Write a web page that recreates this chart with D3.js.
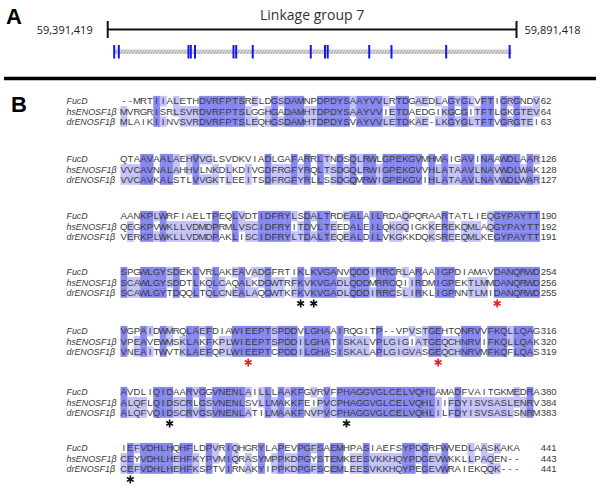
<!DOCTYPE html>
<html><head><meta charset="utf-8">
<script src="https://cdn.jsdelivr.net/npm/d3@7"></script>
<style>body{margin:0;background:#fff}svg{display:block}</style>
</head><body>
<svg id="chart" width="600" height="493"></svg>
<script>
// ---------- Panel A data ----------
const regionStart = 59391419;
const regionEnd = 59891418;
const regionLabels = ["59,391,419", "59,891,418"];
const chromosomeLabel = "Linkage group 7";
const geneSpan = [59398500, 59885300];
const exonPositions = [59399400, 59405000, 59490200, 59493100, 59498200, 59545300, 59548600,
  59568800, 59639800, 59657200, 59660500, 59711300, 59738500, 59805400, 59883000];

// ---------- Panel B data ----------
const seqNames = ["FucD", "hsENOSF1β", "drENOSF1β"];
const fucdBlocks = [
  "--MRTIIALETHDVRFPTSRELDGSDAMNPDPDYSAAYVVLRTDGAEDLAGYGLVFTIGRGNDV",
  "QTAAVAALAEHVVGLSVDKVIADLGAFARRLTNDSQLRWLGPEKGVMHMAIGAVINAAWDLAAR",
  "AANKPLWRFIAELTPEQLVDTIDFRYLSDALTRDEALAILRDAQPQRAARTATLIEQGYPAYTT",
  "SPGWLGYSDEKLVRLAKEAVADGFRTIKLKVGANVQDDIRRCRLARAAIGPDIAMAVDANQRWD",
  "VGPAIDWMRQLAEFDIAWIEEPTSPDDVLGHAAIRQGITP--VPVSTGEHTQNRVVFKQLLQAG",
  "AVDLIQIDAARVGGVNENLAILLLAAKFGVRVFPHAGGVGLCELVQHLAMADFVAITGKMEDRA",
  "IEFVDHLHQHFLDPVRIQHGRYLAPEVPGFSAEMHPASIAEFSYPDGRFWVEDLAASKAKA"
];
const hsBlocks = [
  "MVRGRISRLSVRDVRFPTSLGGHGADAMHTDPDYSAAYVVIETDAEDGIKGCGITFTLGKGTEV",
  "VVCAVNALAHHVLNKDLKDIVGDFRGFYRQLTSDGQLRWIGPEKGVVHLATAAVLNAVWDLWAK",
  "QEGKPVWKLLVDMDPRMLVSCIDFRYITDVLTEEDALEILQKGQIGKKEREKQMLAQGYPAYTT",
  "SCAWLGYSDDTLKQLCAQALKDGWTRFKVKVGADLQDDMRRCQIIRDMIGPEKTLMMDANQRWD",
  "VPEAVEWMSKLAKFKPLWIEEPTSPDDILGHATISKALVPLGIGIATGEQCHNRVIFKQLLQAK",
  "ALQFLQIDSCRLGSVNENLSVLLMAKKFEIPVCPHAGGVGLCELVQHLIIFDYISVSASLENRV",
  "CEYVDHLHEHFKYPVMIQRASYMPPKDPGYSTEMKEESVKKHQYPDGEVWKKLLPAQEN--"
];
const drBlocks = [
  "MLAIKIINVSVRDVRFPTSLEQHGSDAMHTDPDYSVAYVVLETDKAE-LKGYGLTFTVGRGTEI",
  "VVCAVKALSTLVVGKTLEEITSDFRGFYRLLSSDGQMRWIGPEKGVIHLATAAVLNAVWDLWAR",
  "VERKPLWKLLVDMDPAKLISCIDFRYLTDALTEQEALDILVKGKKDQKSREEQMLKEGYPAYTT",
  "SCAWLGYTDQQLTQLCNEALAQGWTKFKVKVGADLQDDIRRCSLIRKLIGPNNTLMIDANQRWD",
  "VNEAITWVTKLAEFQPLWIEEPTCPDDILGHASISKALAPLGIGVASGEQCHNRVMFKQFLQAS",
  "ALQFVQIDSCRVGSVNENLATILMAAKFNVPVCPHAGGVGLCELVQHLILFDYISVSASLSNRM",
  "CEFVDHLHEHFKSPTVIRNAKYIPPKDPGFSCEMLEESVKKHQYPEGEVWRAIEKQQK---"
];
const fucdEnds = [62, 126, 190, 254, 316, 380, 441];
const hsEnds = [64, 128, 192, 256, 320, 384, 443];
const drEnds = [63, 127, 191, 255, 319, 383, 441];
// marked residues: block index, column (1-based), kind
const markBlocks = [3, 3, 3, 4, 4, 5, 5, 6];
const markColumns = [28, 30, 58, 20, 49, 8, 35, 2];
const markKinds = ["other", "other", "catalytic", "catalytic", "catalytic", "other", "other", "other"];

// ---------- layout ----------
const svg = d3.select("#chart");
const darkC = "#8686ef", lightC = "#c2c2f7", textC = "#3c3c3c";
const sans = "Liberation Sans, Arial, sans-serif";

// Panel A
const gx = d3.scaleLinear().domain([regionStart, regionEnd]).range([107.7, 516.5]);
svg.append("text").attr("x", 6).attr("y", 24).text("A")
  .attr("font-family", sans).attr("font-weight", "bold").attr("font-size", 22);
svg.append("text").attr("x", (gx(regionStart) + gx(regionEnd)) / 2).attr("y", 20).attr("text-anchor", "middle")
  .attr("font-family", "Open Sans, sans-serif").attr("font-size", 14).attr("fill", "#333").text(chromosomeLabel);
svg.append("line").attr("x1", gx(regionStart)).attr("x2", gx(regionEnd)).attr("y1", 29.5).attr("y2", 29.5)
  .attr("stroke", "#111").attr("stroke-width", 1.8);
[regionStart, regionEnd].forEach(p => {
  svg.append("line").attr("x1", gx(p)).attr("x2", gx(p)).attr("y1", 21).attr("y2", 38)
    .attr("stroke", "#111").attr("stroke-width", 2);
});
svg.append("text").attr("x", gx(regionStart) - 15).attr("y", 33.5).attr("text-anchor", "end")
  .attr("font-family", "Open Sans, sans-serif").attr("font-size", 11).attr("fill", "#222").text(regionLabels[0]);
svg.append("text").attr("x", gx(regionEnd) + 8).attr("y", 33.5).attr("text-anchor", "start")
  .attr("font-family", "Open Sans, sans-serif").attr("font-size", 11).attr("fill", "#222").text(regionLabels[1]);

const defs = svg.append("defs");
const pat = defs.append("pattern").attr("id", "rope").attr("patternUnits", "userSpaceOnUse")
  .attr("width", 3).attr("height", 5);
pat.append("rect").attr("width", 3).attr("height", 5).attr("fill", "#d8d8d8");
pat.append("path").attr("d", "M0,5 L3,0").attr("stroke", "#a2a2a2").attr("stroke-width", 0.9);
svg.append("rect").attr("x", gx(geneSpan[0])).attr("width", gx(geneSpan[1]) - gx(geneSpan[0]))
  .attr("y", 49.5).attr("height", 4.5).attr("fill", "url(#rope)");
svg.selectAll(".exon").data(exonPositions).enter().append("line")
  .attr("x1", d => gx(d)).attr("x2", d => gx(d)).attr("y1", 45).attr("y2", 58.5)
  .attr("stroke", "#1515ee").attr("stroke-width", 2);

svg.append("line").attr("x1", 4).attr("x2", 596).attr("y1", 78.5).attr("y2", 78.5)
  .attr("stroke", "#000").attr("stroke-width", 3.5);

// Panel B
svg.append("text").attr("x", 11).attr("y", 112).text("B")
  .attr("font-family", sans).attr("font-weight", "bold").attr("font-size", 22);

const nCols = 64;
const colX = d3.scaleBand().domain(d3.range(nCols)).range([120.5, 120.5 + nCols * 6.55]).padding(0);
const rowPitch = 10.2;
const blockY = [101, 159, 216, 272, 331, 392, 448];
const rowY = d3.scalePoint().domain(d3.range(3)).range([0, 2 * rowPitch]);
const fs = 9.6, base = 3.4;

const seqSets = [fucdBlocks, hsBlocks, drBlocks];
const endSets = [fucdEnds, hsEnds, drEnds];

fucdBlocks.forEach((_, b) => {
  const g = svg.append("g").attr("transform", `translate(0,${blockY[b]})`);
  const seqs = seqSets.map(s => s[b]);
  const len = d3.max(seqs, s => s.length);
  for (let c = 0; c < len; c++) {
    const chars = seqs.map(s => s[c]);
    const counts = d3.rollup(chars.filter(ch => ch && ch !== "-"), v => v.length, d => d);
    let best = null, bestN = 0;
    counts.forEach((n, k) => { if (n > bestN) { bestN = n; best = k; } });
    if (bestN < 2) continue;
    chars.forEach((ch, r) => {
      if (ch === best) {
        g.append("rect").attr("x", colX(c)).attr("width", colX.bandwidth() + 0.3)
          .attr("y", rowY(r) - rowPitch / 2).attr("height", rowPitch + 0.3)
          .attr("fill", bestN === 3 ? darkC : lightC);
      }
    });
  }
  seqNames.forEach((n, r) => {
    g.append("text").attr("x", 66.5).attr("y", rowY(r) + base).text(n)
      .attr("font-family", sans).attr("font-style", "italic")
      .attr("font-size", 8.9).attr("fill", textC);
  });
  seqs.forEach((s, r) => {
    g.selectAll(null).data(s.split("")).enter().append("text")
      .attr("x", (d, i) => colX(i) + colX.bandwidth() / 2).attr("y", rowY(r) + base)
      .attr("text-anchor", "middle").text(d => d)
      .attr("font-family", sans).attr("font-size", fs).attr("fill", textC);
    g.append("text").attr("x", colX(nCols - 1) + colX.bandwidth() + 1).attr("y", rowY(r) + base)
      .text(endSets[r][b]).attr("font-family", sans)
      .attr("font-size", fs).attr("fill", textC);
  });
});

const star = d3.symbol().type(d3.symbolAsterisk).size(44);
markBlocks.forEach((b, i) => {
  const c = markColumns[i] - 1;
  svg.append("path").attr("d", star())
    .attr("transform", `translate(${colX(c) + colX.bandwidth() / 2},${blockY[b] + 2 * rowPitch + 11})`)
    .attr("fill", "none").attr("stroke", markKinds[i] === "catalytic" ? "#e8202a" : "#111")
    .attr("stroke-width", 1.7);
});
</script>
</body></html>
